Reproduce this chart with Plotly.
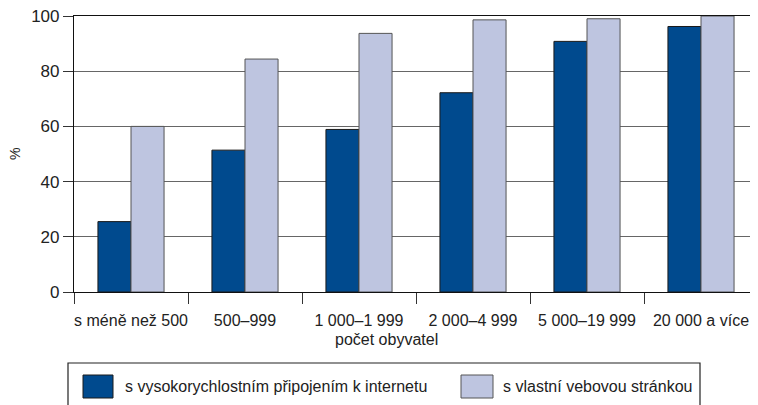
import plotly.graph_objects as go

categories = ["s méně než 500", "500–999", "1 000–1 999", "2 000–4 999", "5 000–19 999", "20 000 a více"]
internet = [25.5, 51.4, 58.9, 72.2, 90.8, 96.2]
website = [60.0, 84.4, 93.7, 98.6, 99.0, 100.0]
series_names = ["s vysokorychlostním připojením k internetu", "s vlastní vebovou stránkou"]
colors = ["#004A8E", "#BEC5E0"]
line_colors = ["#1a1a1a", "#555555"]
yticks = [0, 20, 40, 60, 80, 100]

FONT = "Liberation Sans, Arial, sans-serif"

fig = go.Figure()
for vals, name, c, lc in zip([internet, website], series_names, colors, line_colors):
    fig.add_trace(go.Bar(x=categories, y=vals, name=name, marker=dict(color=c, line=dict(color=lc, width=1)),
                         showlegend=False))

# page has an 8px body margin: figure is shifted by 8px on screen
OFF = 8
W, H = 758 - OFF, 405 - OFF
# plot area on screen: x 74..758, y 16..292
SL, ST, SR, SB = 74, 16, 758, 292
L, T = SL - OFF, ST - OFF
R = W - (SR - OFF)
B = H - (SB - OFF)
pw, ph = SR - SL, SB - ST

def px(x):
    return (x - SL) / pw

def py(y):
    return (SB - y) / ph

fig.update_layout(
    width=W, height=H,
    margin=dict(l=L, r=R, t=T, b=B, autoexpand=False),
    paper_bgcolor="white", plot_bgcolor="white",
    barmode="group", bargap=0.42, bargroupgap=0,
    font=dict(family=FONT, size=16, color="#222222"),
    xaxis=dict(showline=True, linecolor="#111111", linewidth=1.2, mirror=True, automargin=False,
               ticks="outside", tickson="boundaries", ticklen=11, tickcolor="#333333", tickangle=0,
               ticklabelstandoff=14, tickfont=dict(size=16), showgrid=False),
    yaxis=dict(range=[0, 100], tickvals=yticks, showline=True, linecolor="#111111", linewidth=1.2,
               automargin=False, ticklabeloverflow="allow",
               ticks="outside", ticklen=10, tickcolor="#333333", showgrid=True, gridcolor="#666666",
               gridwidth=1.3, zeroline=False, tickfont=dict(size=17)),
)

ann = []
ann.append(dict(text="počet obyvatel", xref="paper", yref="paper", x=px(386), y=py(340),
                showarrow=False, font=dict(size=16), xanchor="center", yanchor="middle"))
ann.append(dict(text="%", xref="paper", yref="paper", x=px(15), y=0.5, textangle=-90,
                showarrow=False, font=dict(size=14), xanchor="center", yanchor="middle"))

shapes = []
# legend box
shapes.append(dict(type="rect", xref="paper", yref="paper", x0=px(68), x1=px(700), y0=py(410), y1=py(363),
                   line=dict(color="#222222", width=1.2), fillcolor="white"))
sw = [(83, 113, 123), (461, 493, 501)]
for (x0, x1, tx), c, lc, name in zip(sw, colors, line_colors, series_names):
    shapes.append(dict(type="rect", xref="paper", yref="paper", x0=px(x0), x1=px(x1), y0=py(398), y1=py(375),
                       line=dict(color=lc, width=1), fillcolor=c))
    ann.append(dict(text=name, xref="paper", yref="paper", x=px(tx), y=py(386), showarrow=False,
                    xanchor="left", yanchor="middle", font=dict(size=16)))

fig.update_layout(annotations=ann, shapes=shapes)
fig.write_html("out.html")
